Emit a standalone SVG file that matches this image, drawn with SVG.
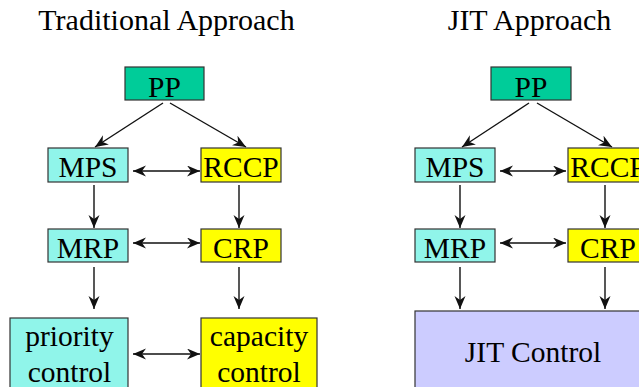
<svg xmlns="http://www.w3.org/2000/svg" width="639" height="387" viewBox="0 0 639 387">
<style>
.t{font-family:"Liberation Serif","Times New Roman",serif;fill:#000;text-anchor:middle}
.title{font-size:30px}
.lbl{font-size:29.5px}
.box{stroke:#333;stroke-width:1.2}
.pp{fill:#00CC99}
.cy{fill:#90F5EA}
.yl{fill:#FFFF00}
.jit{fill:#CCCCFF}
.c line{stroke:#111;stroke-width:1.4;fill:none}
</style>
<defs>
<marker id="ah" markerUnits="userSpaceOnUse" markerWidth="14" markerHeight="12" refX="13" refY="5.5" orient="auto-start-reverse" viewBox="0 0 14 12">
<path d="M0,0 L13,5.5 L0,11 L4,5.5 z" fill="#111"/>
</marker>
</defs>
<rect width="639" height="387" fill="#fff"/>
<text class="t title" x="166.5" y="30">Traditional Approach</text>
<text class="t title" x="529.5" y="30">JIT Approach</text>

<g id="L-PP"><rect class="box pp" x="125" y="67" width="79" height="33"/><text class="t lbl" x="164.5" y="97">PP</text></g>
<g id="L-MPS"><rect class="box cy" x="48" y="148" width="80" height="34"/><text class="t lbl" x="88" y="177">MPS</text></g>
<g id="L-RCCP"><rect class="box yl" x="201" y="148" width="80" height="34"/><text class="t lbl" x="241" y="177">RCCP</text></g>
<g id="L-MRP"><rect class="box cy" x="48" y="229" width="80" height="33"/><text class="t lbl" x="88" y="258">MRP</text></g>
<g id="L-CRP"><rect class="box yl" x="201" y="229" width="80" height="33"/><text class="t lbl" x="241" y="258">CRP</text></g>
<g id="L-PC"><rect class="box cy" x="10" y="318" width="118" height="90"/><text class="t lbl" x="69.5" y="346">priority</text><text class="t lbl" x="69.5" y="382">control</text></g>
<g id="L-CC"><rect class="box yl" x="201" y="318" width="116" height="90"/><text class="t lbl" x="259" y="346">capacity</text><text class="t lbl" x="259" y="382">control</text></g>

<g id="R-PP"><rect class="box pp" x="491" y="67" width="80" height="33"/><text class="t lbl" x="531" y="97">PP</text></g>
<g id="R-MPS"><rect class="box cy" x="415" y="148" width="80" height="34"/><text class="t lbl" x="455" y="177">MPS</text></g>
<g id="R-RCCP"><rect class="box yl" x="568" y="148" width="80" height="34"/><text class="t lbl" x="608" y="177">RCCP</text></g>
<g id="R-MRP"><rect class="box cy" x="415" y="229" width="80" height="33"/><text class="t lbl" x="455" y="258">MRP</text></g>
<g id="R-CRP"><rect class="box yl" x="568" y="229" width="80" height="33"/><text class="t lbl" x="608" y="258">CRP</text></g>
<g id="R-JIT"><rect class="box jit" x="415" y="311" width="236" height="100"/><text class="t lbl" x="533" y="362">JIT Control</text></g>

<g id="connectors" class="c">
<line x1="163" y1="103" x2="95" y2="147" marker-end="url(#ah)"/>
<line x1="170" y1="103" x2="246" y2="147" marker-end="url(#ah)"/>
<line x1="133" y1="171" x2="200" y2="171" marker-start="url(#ah)" marker-end="url(#ah)"/>
<line x1="94" y1="185" x2="94" y2="228" marker-end="url(#ah)"/>
<line x1="239" y1="185" x2="239" y2="228" marker-end="url(#ah)"/>
<line x1="133" y1="243" x2="200" y2="243" marker-start="url(#ah)" marker-end="url(#ah)"/>
<line x1="94" y1="267" x2="94" y2="309" marker-end="url(#ah)"/>
<line x1="239" y1="267" x2="239" y2="309" marker-end="url(#ah)"/>
<line x1="133" y1="354" x2="200" y2="354" marker-start="url(#ah)" marker-end="url(#ah)"/>

<line x1="529" y1="103" x2="462" y2="147" marker-end="url(#ah)"/>
<line x1="537" y1="103" x2="612" y2="147" marker-end="url(#ah)"/>
<line x1="500" y1="171" x2="566" y2="171" marker-start="url(#ah)" marker-end="url(#ah)"/>
<line x1="460" y1="185" x2="460" y2="228" marker-end="url(#ah)"/>
<line x1="605" y1="185" x2="605" y2="228" marker-end="url(#ah)"/>
<line x1="500" y1="243" x2="566" y2="243" marker-start="url(#ah)" marker-end="url(#ah)"/>
<line x1="460" y1="267" x2="460" y2="309" marker-end="url(#ah)"/>
<line x1="605" y1="267" x2="605" y2="309" marker-end="url(#ah)"/>
</g>
</svg>
